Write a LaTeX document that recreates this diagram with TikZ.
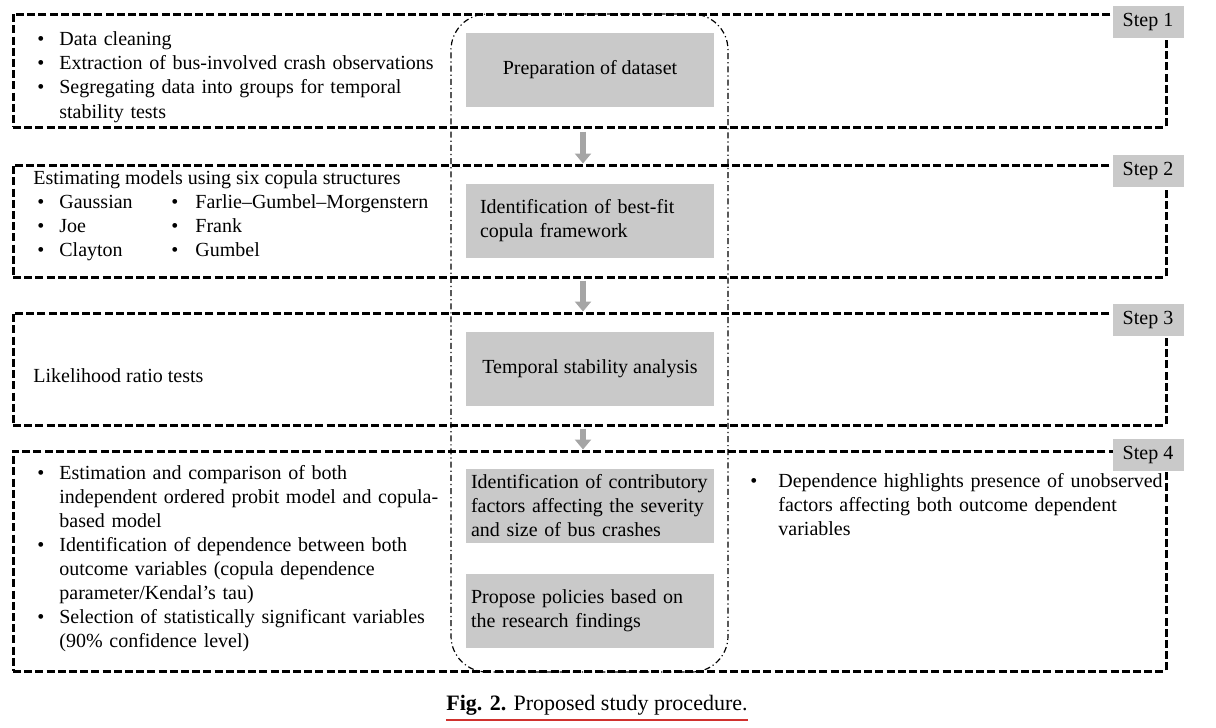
\documentclass[tikz,border=0pt]{standalone}
\usepackage{fontspec}
\setmainfont{Liberation Serif}
\usetikzlibrary{arrows.meta,fit}
\definecolor{boxgray}{HTML}{C9C9C9}
\definecolor{arrowgray}{HTML}{A5A5A5}
\definecolor{linkred}{HTML}{D0312D}
\newcommand{\bitem}[2][12pt]{\makebox[#1][l]{\hspace{1pt}\textbullet}\begin{tabular}[t]{@{}l@{}}#2\end{tabular}}

\begin{document}
\begin{tikzpicture}[x=0.5pt,y=-0.5pt,
  every node/.style={font=\fontsize{10}{12}\selectfont},
  frame/.style={draw, line width=1.5pt, dash pattern=on 4pt off 1.6pt, inner sep=0pt},
  core/.style={draw, line width=0.6pt, dash pattern=on 3pt off 1.5pt on 0.6pt off 1.5pt, rounded corners=18pt, inner sep=0pt},
  proc/.style={fill=boxgray, minimum width=124pt, minimum height=37pt, inner sep=0pt},
  tag/.style={fill=boxgray, minimum width=35.5pt, minimum height=16pt, inner sep=0pt},
  notes/.style={anchor=base west, inner sep=0pt, align=left},
  flow/.style={draw=arrowgray, line width=3pt, -{Triangle[width=8pt,length=5pt]}}]
\useasboundingbox (0,0) rectangle (1216,728);

\node[frame, fit={(13,14) (1166,127)}] (s1) {};
\node[frame, fit={(13,165) (1166,277)}] (s2) {};
\node[frame, fit={(13,313) (1166,425)}] (s3) {};
\node[frame, fit={(13,451) (1166,671)}] (s4) {};
\node[core, fit={(451,14) (728,672)}] (core) {};

\node[proc, align=center] (prep) at (590,70) {Preparation of dataset};
\node[proc, align=left, text width=110pt] (best) at (590,221) {Identification of best-fit\\copula framework};
\node[proc, align=center] (temp) at (590,369) {Temporal stability analysis};
\node[proc, align=left, text width=119pt] (fact) at (590,506) {Identification of contributory\\factors affecting the severity\\and size of bus crashes};
\node[proc, align=left, text width=119pt] (poli) at (590,611) {Propose policies based on\\the research findings};

\node[tag] (t1) at (1148,22) {Step 1};
\node[tag] (t2) at (1148,171) {Step 2};
\node[tag] (t3) at (1148,320) {Step 3};
\node[tag] (t4) at (1148,455) {Step 4};

\coordinate (ax) at (583,0);
\draw[flow] ([yshift=-1.5pt]s1.south -| ax) -- (s2.north -| ax);
\draw[flow] ([yshift=-1pt]s2.south -| ax) -- (s3.north -| ax);
\draw[flow] ([yshift=-1pt]s3.south -| ax) -- (s4.north -| ax);

\node[notes, text width=210pt] (n1) at (35,46) {\bitem{Data cleaning}\\\bitem{Extraction of bus-involved crash observations}\\\bitem{Segregating data into groups for temporal\\stability tests}};
\node[notes] (n2) at (33,184) {Estimating models using six copula structures};
\node[notes, text width=60pt] (n2a) at (35,208) {\bitem{Gaussian}\\\bitem{Joe}\\\bitem{Clayton}};
\node[notes, text width=140pt] (n2b) at (169,208) {\bitem[13pt]{Farlie–Gumbel–Morgenstern}\\\bitem[13pt]{Frank}\\\bitem[13pt]{Gumbel}};
\node[notes] (n3) at (33,382) {Likelihood ratio tests};
\node[notes, text width=210pt] (n4) at (35,479) {\bitem{Estimation and comparison of both\\independent ordered probit model and copula-\\based model}\\[-1pt]\bitem{Identification of dependence between both\\outcome variables (copula dependence\\parameter/Kendal’s tau)}\\[-1pt]\bitem{Selection of statistically significant variables\\(90\% confidence level)}};
\node[notes, text width=210pt] (n5) at (748,487) {\bitem[15pt]{Dependence highlights presence of unobserved\\factors affecting both outcome dependent\\variables}};

\node[anchor=base, inner sep=0pt, font=\fontsize{11}{13}\selectfont] (cap) at (597,710) {\textbf{Fig. 2.} Proposed study procedure.};
\draw[linkred, line width=1pt] ([yshift=-5pt]cap.base west) -- ([yshift=-5pt]cap.base east);
\end{tikzpicture}
\end{document}
